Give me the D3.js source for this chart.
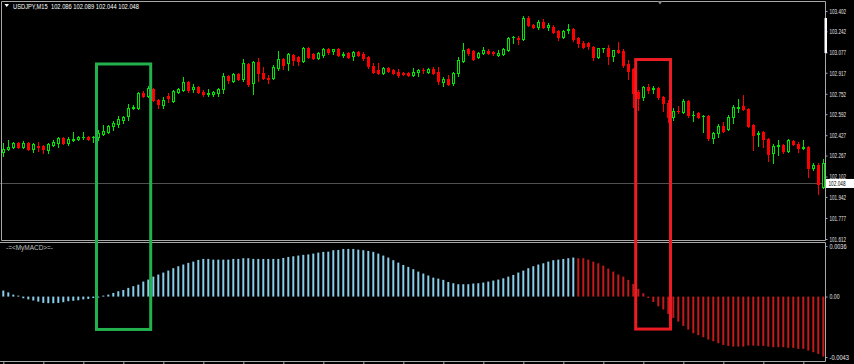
<!DOCTYPE html>
<html>
<head>
<meta charset="utf-8">
<script src="https://cdn.jsdelivr.net/npm/d3@7"></script>
<style>
  body { margin: 0; background: #000; }
  svg { display: block; }
</style>
</head>
<body>
<div id="chart"></div>
<script>
// Chart data: one [open, high, low, close] per M15 bar
const ohlc = [
  [102.295,102.365,102.264,102.318],[102.318,102.389,102.311,102.334],[102.334,102.373,102.326,102.365],[102.365,102.373,102.326,102.334],[102.334,102.381,102.326,102.365],
  [102.365,102.373,102.311,102.318],[102.318,102.365,102.295,102.358],[102.342,102.373,102.303,102.334],[102.342,102.350,102.287,102.318],[102.311,102.365,102.287,102.358],
  [102.350,102.389,102.342,102.373],[102.365,102.413,102.334,102.405],[102.405,102.413,102.358,102.365],[102.365,102.413,102.350,102.397],[102.393,102.452,102.381,102.397],
  [102.397,102.421,102.389,102.413],[102.409,102.452,102.397,102.413],[102.413,102.421,102.389,102.397],[102.409,102.421,102.373,102.413],[102.413,102.468,102.389,102.444],
  [102.436,102.507,102.428,102.460],[102.452,102.507,102.444,102.499],[102.499,102.538,102.468,102.523],[102.515,102.578,102.491,102.554],[102.546,102.578,102.523,102.570],
  [102.578,102.672,102.546,102.640],[102.644,102.664,102.632,102.648],[102.640,102.766,102.632,102.758],[102.758,102.774,102.727,102.735],[102.735,102.813,102.727,102.797],
  [102.790,102.797,102.695,102.703],[102.703,102.711,102.640,102.672],[102.664,102.727,102.640,102.703],[102.735,102.758,102.687,102.719],[102.695,102.782,102.687,102.774],
  [102.766,102.797,102.758,102.790],[102.782,102.884,102.774,102.844],[102.844,102.852,102.766,102.782],[102.790,102.829,102.766,102.805],[102.805,102.813,102.758,102.766],
  [102.766,102.782,102.735,102.750],[102.750,102.790,102.735,102.758],[102.750,102.774,102.735,102.766],[102.758,102.797,102.735,102.790],[102.790,102.915,102.758,102.892],
  [102.892,102.900,102.837,102.860],[102.852,102.915,102.844,102.907],[102.907,102.915,102.860,102.868],[102.868,103.025,102.852,102.994],[102.986,102.994,102.813,102.829],
  [102.837,103.010,102.750,103.002],[103.002,103.033,102.852,102.915],[102.915,102.962,102.868,102.876],[102.876,102.900,102.837,102.872],[102.876,102.978,102.868,102.962],
  [102.954,103.088,102.939,103.025],[103.025,103.033,102.947,102.978],[102.994,103.072,102.939,103.064],[103.057,103.064,102.978,103.017],[103.041,103.049,102.978,103.010],
  [103.010,103.119,103.002,103.111],[103.111,103.119,103.033,103.041],[103.064,103.072,103.025,103.033],[103.033,103.080,103.025,103.072],[103.057,103.111,103.041,103.104],
  [103.104,103.111,103.064,103.080],[103.088,103.104,103.064,103.104],[103.104,103.111,103.049,103.057],[103.060,103.080,103.041,103.064],[103.072,103.080,103.033,103.041],
  [103.049,103.088,103.017,103.080],[103.080,103.088,103.049,103.057],[103.064,103.080,103.017,103.033],[103.041,103.049,102.954,102.970],[102.970,102.994,102.915,102.923],
  [102.939,102.994,102.907,102.915],[102.915,102.962,102.907,102.954],[102.954,102.962,102.923,102.931],[102.939,102.947,102.907,102.915],[102.923,102.947,102.884,102.900],
  [102.915,102.923,102.900,102.911],[102.915,102.923,102.892,102.900],[102.900,102.954,102.892,102.923],[102.923,102.943,102.892,102.939],[102.939,102.954,102.915,102.935],
  [102.923,102.951,102.915,102.947],[102.947,102.962,102.907,102.915],[102.923,102.962,102.829,102.852],[102.844,102.884,102.813,102.868],[102.868,102.900,102.821,102.829],
  [102.837,102.923,102.821,102.915],[102.915,103.041,102.892,103.017],[103.010,103.151,103.002,103.096],[103.104,103.111,103.057,103.072],[103.088,103.096,103.017,103.025],
  [103.041,103.080,103.033,103.072],[103.072,103.119,103.064,103.096],[103.088,103.104,103.064,103.072],[103.080,103.088,103.057,103.076],[103.057,103.096,103.049,103.072],
  [103.064,103.111,103.057,103.104],[103.096,103.198,103.088,103.190],[103.194,103.206,103.151,103.198],[103.190,103.206,103.143,103.182],[103.182,103.363,103.174,103.347],
  [103.347,103.363,103.284,103.292],[103.292,103.300,103.269,103.277],[103.277,103.331,103.261,103.316],[103.316,103.339,103.269,103.277],[103.277,103.308,103.253,103.292],
  [103.277,103.292,103.229,103.237],[103.245,103.253,103.174,103.198],[103.198,103.253,103.190,103.245],[103.253,103.300,103.229,103.261],[103.261,103.269,103.166,103.182],
  [103.190,103.198,103.119,103.151],[103.151,103.166,103.111,103.119],[103.151,103.159,103.104,103.127],[103.119,103.127,103.017,103.041],[103.041,103.111,103.033,103.111],
  [103.108,103.111,103.080,103.111],[103.111,103.135,102.986,103.049],[103.049,103.096,103.010,103.096],[103.096,103.159,103.072,103.084],[103.088,103.104,102.962,102.978],
  [102.986,103.017,102.868,102.931],[102.947,102.954,102.648,102.758],[102.766,102.782,102.625,102.719],[102.727,102.813,102.703,102.805],[102.805,102.829,102.758,102.782],
  [102.793,102.813,102.758,102.797],[102.797,102.805,102.711,102.727],[102.727,102.735,102.617,102.680],[102.680,102.703,102.530,102.570],[102.570,102.640,102.546,102.617],
  [102.617,102.656,102.601,102.613],[102.609,102.711,102.601,102.695],[102.695,102.703,102.570,102.586],[102.582,102.617,102.538,102.586],[102.601,102.609,102.562,102.570],
  [102.574,102.586,102.452,102.578],[102.578,102.586,102.389,102.405],[102.405,102.452,102.365,102.444],[102.444,102.515,102.413,102.499],[102.499,102.530,102.452,102.460],
  [102.476,102.586,102.468,102.570],[102.570,102.664,102.523,102.648],[102.644,102.711,102.609,102.648],[102.656,102.742,102.625,102.632],[102.632,102.640,102.491,102.499],
  [102.507,102.515,102.311,102.428],[102.440,102.460,102.342,102.444],[102.452,102.460,102.334,102.397],[102.397,102.405,102.224,102.279],[102.287,102.358,102.209,102.342],
  [102.346,102.389,102.272,102.350],[102.350,102.358,102.287,102.303],[102.303,102.397,102.295,102.389],[102.381,102.389,102.350,102.358],[102.358,102.373,102.295,102.326],
  [102.330,102.389,102.318,102.334],[102.334,102.342,102.099,102.170],[102.170,102.209,102.154,102.193],[102.193,102.209,101.965,102.044],[102.021,102.240,102.013,102.209]
];

// MyMACD histogram, one value per bar
const macd = [
  0.00043,0.0003,0.00014,0.00007,-0.00012,-0.0002,-0.00028,-0.00036,-0.00045,-0.00047,
  -0.00047,-0.00045,-0.0004,-0.00033,-0.0003,-0.00026,-0.0002,-0.00017,-0.0001,-0.00005,
  0.00007,0.00014,0.00026,0.00038,0.00047,0.00062,0.00074,0.00085,0.00107,0.00121,
  0.00142,0.00157,0.00171,0.00185,0.00202,0.00216,0.00228,0.0024,0.00249,0.00261,
  0.00268,0.00268,0.00263,0.00263,0.00263,0.00263,0.00268,0.00268,0.00273,0.00273,
  0.00268,0.00268,0.00268,0.00268,0.00268,0.00268,0.00275,0.00282,0.00287,0.00292,
  0.00297,0.003,0.00306,0.00313,0.00318,0.0032,0.0033,0.00332,0.00339,0.00339,
  0.00339,0.00334,0.0033,0.00325,0.00318,0.00306,0.00292,0.00278,0.00259,0.00242,
  0.00225,0.00211,0.00195,0.00178,0.00164,0.0015,0.00135,0.00128,0.00119,0.00104,
  0.00095,0.00088,0.00088,0.00088,0.00093,0.00095,0.001,0.00107,0.00114,0.00121,
  0.0013,0.00142,0.00154,0.00171,0.00185,0.00202,0.00216,0.00228,0.00237,0.00249,
  0.00259,0.00263,0.00268,0.00273,0.00278,0.00273,0.00273,0.00263,0.00249,0.00237,
  0.0022,0.00199,0.00178,0.00157,0.00142,0.00119,0.0009,0.00055,0.00024,-0.0001,
  -0.00038,-0.00069,-0.00092,-0.00123,-0.00152,-0.00178,-0.00209,-0.00235,-0.00261,-0.00275,
  -0.00289,-0.00306,-0.00318,-0.00332,-0.00344,-0.00351,-0.00356,-0.00356,-0.00356,-0.00349,
  -0.00349,-0.00351,-0.00351,-0.00356,-0.0036,-0.0036,-0.0036,-0.00365,-0.00365,-0.00372,
  -0.00372,-0.00384,-0.00396,-0.00408,-0.00427
];
const redFrom = 115; // histogram turns red from this bar on

const priceTicks = [103.402, 103.242, 103.077, 102.917, 102.752, 102.592, 102.427, 102.267, 102.102, 101.942, 101.777, 101.612];
const macdTicks = [0.0036, 0, -0.0043];
const macdTickLabels = ['0.0036', '0.00', '-0.0043'];
const lastPrice = 102.048;
const title = 'USDJPY,M15  102.086 102.089 102.044 102.048';
const indicatorName = '-=<MyMACD>=-';

// Hand-drawn boxes: bar range, top price, bottom histogram value
const boxes = [
  { from: 18.64, to: 29.48, top: 102.986, bottom: -0.00234, color: '#22b14c' },
  { from: 126.48, to: 133.44, top: 103.021, bottom: -0.00231, color: '#ed1c24' }
];

// Layout
const W = 854, H = 364;
const right = 825.5;
const mainTop = 1.5, mainBottom = 240.5;
const subTop = 242.5, subBottom = 361.5;
const green = '#00e600', red = '#ff0000';
const frame = '#a8a8a8';
const font = "'Liberation Sans', Arial, sans-serif";

// Scales
const x = d3.scaleLinear().domain([0, ohlc.length - 1]).range([3.3, 823.3]);
const y = d3.scaleLinear().domain([101.612, 103.402]).range([239, 11]);
const ym = d3.scaleLinear().domain([-0.0043, 0.0036]).range([357, 246]);

const svg = d3.select('#chart').append('svg')
    .attr('width', W)
    .attr('height', H)
    .style('background', '#000');

// Current price line
svg.append('line')
    .attr('x1', 0).attr('x2', right)
    .attr('y1', Math.round(y(lastPrice)) + 0.5).attr('y2', Math.round(y(lastPrice)) + 0.5)
    .attr('stroke', '#505050');

// Candles
const candles = svg.append('g').selectAll('g')
    .data(ohlc)
    .join('g');

candles.each(function (d, i) {
    const [o, h, l, c] = d;
    const g = d3.select(this);
    const cx = Math.round(x(i));
    const up = c >= o;
    const col = up ? green : red;
    const top = Math.round(y(Math.max(o, c)));
    const bot = Math.round(y(Math.min(o, c)));

    g.append('line')
        .attr('x1', cx + 0.5).attr('x2', cx + 0.5)
        .attr('y1', Math.round(y(h))).attr('y2', Math.round(y(l)) + 1)
        .attr('stroke', col);

    if (bot - top < 1) {
        g.append('rect')
            .attr('x', cx - 1).attr('y', top)
            .attr('width', 3).attr('height', 1)
            .attr('fill', col);
    } else if (up) {
        g.append('rect')
            .attr('x', cx - 0.5).attr('y', top + 0.5)
            .attr('width', 2).attr('height', bot - top)
            .attr('fill', '#000')
            .attr('stroke', col);
    } else {
        g.append('rect')
            .attr('x', cx - 1).attr('y', top)
            .attr('width', 3).attr('height', bot - top + 1)
            .attr('fill', col);
    }
});

// Histogram
svg.append('g').selectAll('rect')
    .data(macd)
    .join('rect')
    .attr('x', (d, i) => x(i) - 1)
    .attr('y', d => Math.min(ym(0), ym(d)))
    .attr('width', 2)
    .attr('height', d => Math.max(1, Math.abs(ym(d) - ym(0))))
    .attr('fill', (d, i) => i < redFrom ? '#87ceeb' : '#c41a1a');

// Frames
svg.append('path')
    .attr('d', `M${right},${mainTop}H1.5V${mainBottom}H${right}Z`)
    .attr('fill', 'none').attr('stroke', frame);
svg.append('path')
    .attr('d', `M0,${subTop}H${right}V${subBottom}H0`)
    .attr('fill', 'none').attr('stroke', frame);

// Right price axis
const styleAxis = (g, len) => {
    g.select('.domain').remove();
    g.selectAll('line').attr('stroke', frame);
    g.selectAll('text')
        .attr('fill', '#e6e6e6')
        .style('font-family', font)
        .style('font-size', '7px')
        .attr('lengthAdjust', 'spacingAndGlyphs')
        .attr('textLength', len);
};

svg.append('g')
    .attr('transform', `translate(${right},0)`)
    .call(d3.axisRight(y).tickValues(priceTicks).tickSize(2).tickPadding(2).tickFormat(d3.format('.3f')))
    .call(g => styleAxis(g, 16.5));

svg.append('g')
    .attr('transform', `translate(${right},0)`)
    .call(d3.axisRight(ym).tickValues(macdTicks).tickSize(2).tickPadding(2).tickFormat((d, i) => macdTickLabels[i]))
    .call(g => styleAxis(g, d => d === 0 ? 10 : (d < 0 ? 19.5 : 17)));

// Time axis ticks along the bottom
svg.append('g')
    .attr('transform', `translate(0,${subBottom})`)
    .call(d3.axisBottom(x).tickValues(d3.range(0, ohlc.length, 8)).tickSize(3).tickFormat(''))
    .call(g => { g.select('.domain').remove(); g.selectAll('line').attr('stroke', frame); });

// Scale marker on the price axis
svg.append('rect')
    .attr('x', 824.5).attr('y', 18)
    .attr('width', 2.5).attr('height', 35)
    .attr('fill', '#fff');

// Last price label
const ly = y(lastPrice);
svg.append('rect')
    .attr('x', 826).attr('y', ly - 4.5)
    .attr('width', 28).attr('height', 9)
    .attr('fill', '#fff');
svg.append('text')
    .attr('x', 828.5).attr('y', ly)
    .attr('dy', '0.35em')
    .attr('fill', '#000')
    .style('font-family', font).style('font-size', '7px')
    .attr('lengthAdjust', 'spacingAndGlyphs').attr('textLength', 17)
    .text(d3.format('.3f')(lastPrice));

// Title and markers
svg.append('path').attr('d', 'M4.5,4H9L6.75,7Z').attr('fill', '#fff');
svg.append('path').attr('d', 'M657.5,1H662.5L660,4.5Z').attr('fill', '#8a8a8a');
svg.append('text')
    .attr('x', 13).attr('y', 8.5)
    .attr('fill', '#fff')
    .style('font-family', font).style('font-size', '7px')
    .attr('lengthAdjust', 'spacingAndGlyphs').attr('textLength', 126)
    .attr('xml:space', 'preserve')
    .text(title);
svg.append('text')
    .attr('x', 6).attr('y', 250)
    .attr('fill', '#c0c0c0')
    .style('font-family', font).style('font-size', '7px')
    .attr('lengthAdjust', 'spacingAndGlyphs').attr('textLength', 47)
    .text(indicatorName);

// Annotation boxes
svg.append('g').selectAll('rect')
    .data(boxes)
    .join('rect')
    .attr('x', d => x(d.from))
    .attr('y', d => y(d.top))
    .attr('width', d => x(d.to) - x(d.from))
    .attr('height', d => ym(d.bottom) - y(d.top))
    .attr('fill', 'none')
    .attr('stroke', d => d.color)
    .attr('stroke-width', 3);
</script>
</body>
</html>
